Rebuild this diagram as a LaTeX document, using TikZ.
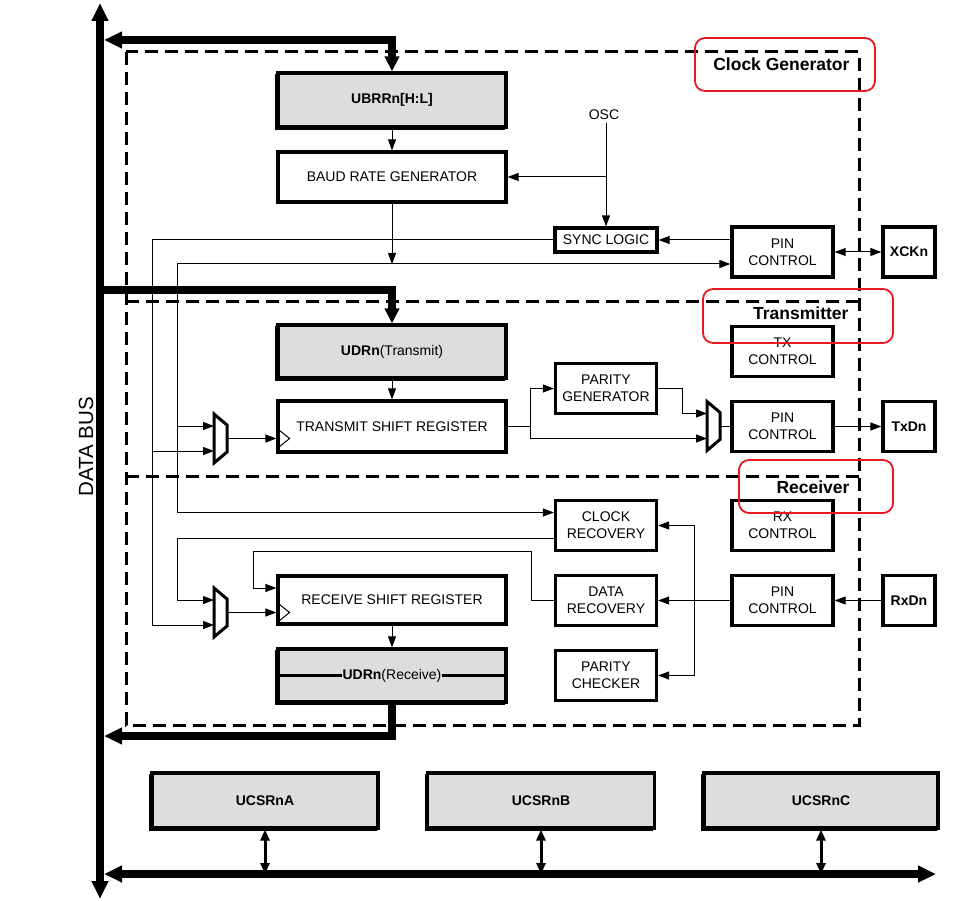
\documentclass[tikz,border=0pt]{standalone}
\usepackage{fontspec}
\setmainfont{Liberation Sans}
\usetikzlibrary{arrows.meta,shadows}
\definecolor{regfill}{RGB}{221,221,221}
\definecolor{hlred}{RGB}{232,24,32}

\begin{document}
\begin{tikzpicture}[
    x=1pt, y=-1pt,
    font=\fontsize{14}{17}\selectfont,
    blk/.style={draw, line width=3.2pt, align=center, inner sep=0pt},
    reg/.style={blk, fill=regfill, copy shadow={shadow xshift=-2pt, shadow yshift=-2pt, opacity=1, fill=regfill, draw=black, line width=1.2pt}},
    sig/.style={line width=1pt, -{Triangle[length=11pt,width=8pt]}},
    wire/.style={line width=1pt},
    bus/.style={line width=8pt},
    link/.style={line width=3pt, {Triangle[length=11pt,width=9pt]}-{Triangle[length=11pt,width=9pt]}},
    grp/.style={line width=3pt, dash pattern=on 13pt off 7pt},
    hl/.style={draw=hlred, line width=1.8pt, rounded corners=10pt},
    title/.style={font=\fontsize{17.5}{20}\selectfont\bfseries, anchor=east},
    mux/.pic={
      \draw[line width=3pt, fill=white] (0,-24.5) -- (13,-13.5) -- (13,13.5) -- (0,24.5) -- cycle;
      \coordinate (-a) at (0,-12.5);
      \coordinate (-b) at (0,12.5);
      \coordinate (-o) at (13,0);
    }
  ]
  \useasboundingbox (0,0) rectangle (972,901);
  \def\tipB{Triangle[length=18pt,width=16pt]}

  \coordinate (dbtop) at (100,3);
  \coordinate (dbbot) at (100,899);
  \coordinate (hbL) at (104,874);
  \coordinate (hbR) at (936,874);
  \coordinate (rs) at (152,240);
  \coordinate (rb) at (177,264);
  \coordinate (txj) at (530,426.5);
  \coordinate (rj) at (694,600.5);
  \coordinate (dq) at (531,551);
  \coordinate (dr) at (253,551);

  \node[reg, minimum width=228pt, minimum height=54pt] (ubrr) at (392,100) {\textbf{UBRRn[H:L]}};
  \node[blk, minimum width=228pt, minimum height=50pt] (baud) at (392,177) {BAUD RATE GENERATOR};
  \node[reg, minimum width=228pt, minimum height=53pt] (udrt) at (392,351.5) {\textbf{UDRn}(Transmit)};
  \node[blk, minimum width=228pt, minimum height=51pt] (tsr) at (392,426.5) {TRANSMIT SHIFT REGISTER};
  \node[blk, minimum width=228pt, minimum height=48pt] (rsr) at (392,600) {RECEIVE SHIFT REGISTER};
  \node[reg, minimum width=228pt, minimum height=53pt] (udrr) at (392,675.5) {};
  \node[fill=regfill, inner sep=0.5pt] (udrrL) at (udrr) {\textbf{UDRn}(Receive)};
  \draw[line width=2.2pt] (udrr.west) -- (udrrL.west) (udrrL.east) -- (udrr.east);

  \node (osc) at (604,115) {OSC};
  \node[blk, minimum width=102pt, minimum height=24pt] (sync) at (606,240) {SYNC LOGIC};
  \foreach \name/\lbl/\x/\y in {par/{PARITY\\GENERATOR}/606/388.5, clkr/{CLOCK\\RECOVERY}/606/525.5,
                                datr/{DATA\\RECOVERY}/606/600.5, parc/{PARITY\\CHECKER}/606/675.5,
                                pinck/{PIN\\CONTROL}/782.5/252, txc/{TX\\CONTROL}/782.5/351.5,
                                pintx/{PIN\\CONTROL}/782.5/426.5, rxc/{RX\\CONTROL}/782.5/525.5,
                                pinrx/{PIN\\CONTROL}/782.5/600.5}
    \node[blk, minimum width=101pt, minimum height=50pt] (\name) at (\x,\y) {\lbl};
  \foreach \name/\lbl/\y in {xck/XCKn/252, txd/TxDn/426.5, rxd/RxDn/600.5}
    \node[blk, minimum width=52pt, minimum height=50pt, font=\fontsize{14}{17}\selectfont\bfseries] (\name) at (909,\y) {\lbl};

  \pic (mxt) at (214,438.5) {mux};
  \pic (mxr) at (214,612.5) {mux};
  \pic (mx2) at (707,426) {mux};

  % buses
  \draw[bus, {\tipB}-{\tipB}] (dbtop) -- (dbbot);
  \draw[bus, {\tipB}-{\tipB}] (hbL) -- (hbR);
  \draw[bus, {Triangle[length=15pt,width=14pt]}-{\tipB}] (ubrr.north) |- ([xshift=4pt]dbtop |- 0,40);
  \draw[bus, -{Triangle[length=15pt,width=14pt]}] (dbtop |- 0,290) -| (udrt.north);
  \draw[bus, -{\tipB}] (udrr.south) |- ([xshift=4pt]dbtop |- 0,736);
  \node[rotate=90, font=\fontsize{20.5}{24}\selectfont] (dblbl) at (86,447) {DATA BUS};

  \foreach \name/\lbl/\x/\w in {ucsra/UCSRnA/265/226, ucsrb/UCSRnB/541/227, ucsrc/UCSRnC/821/234} {
    \node[reg, minimum width=\w pt, minimum height=55pt] (\name) at (\x,800.5) {\textbf{\lbl}};
    \draw[link] (\name.south) -- (\name.south |- hbL);
  }

  % clock generator
  \draw[sig] (ubrr) -- (baud);
  \draw[sig] (sync.north |- osc.south) -- (sync.north);
  \draw[sig] (sync.north |- baud.east) -- (baud.east);
  \draw[sig] (pinck.west |- sync.east) -- (sync.east);
  \draw[line width=1pt, {Triangle[length=11pt,width=8pt]}-{Triangle[length=11pt,width=8pt]}] (pinck) -- (xck);
  \draw[sig] (baud.south) -- (baud.south |- rb);
  \draw[sig] (rb) -- (pinck.west |- rb);
  \draw[sig] (sync.west) -| (rs |- mxr-b) -- (mxr-b);
  \draw[sig] (rs |- mxt-b) -- (mxt-b);
  \draw[sig] (rb |- mxt-a) -- (mxt-a);
  \draw[sig] (rb) |- ([yshift=13pt]clkr.west);

  % transmitter
  \draw[sig] (udrt) -- (tsr);
  \draw[sig] (mxt-o) -- (mxt-o -| tsr.west);
  \draw[wire] (tsr.west |- mxt-o) ++(3.2,-8) -- ++(10,8) -- ++(-10,8);
  \draw[wire] (tsr.east) -- (txj);
  \draw[sig] (txj) |- (par.west);
  \draw[sig] (txj) |- (mx2-b);
  \draw[sig] (par.east) -| (mx2-a -| 682,0) -- (mx2-a);
  \draw[wire] (mx2-o) -- (mx2-o -| pintx.west);
  \draw[sig] (pintx) -- (txd);

  % receiver
  \draw[sig] (rxd) -- (pinrx);
  \draw[sig] (pinrx) -- (datr);
  \draw[sig] (rj) |- (clkr.east);
  \draw[sig] (rj) |- (parc.east);
  \draw[sig] ([yshift=-13pt]clkr.west) -| (rb |- mxr-a) -- (mxr-a);
  \draw[sig] (datr.west) -| (dq) -- (dr) |- ([yshift=12pt]rsr.west);
  \draw[sig] (mxr-o) -- (mxr-o -| rsr.west);
  \draw[wire] (rsr.west |- mxr-o) ++(3.2,-8) -- ++(10,8) -- ++(-10,8);
  \draw[sig] (rsr) -- (udrr);

  % groups
  \draw[grp] (126,52) rectangle (859,725);
  \draw[grp] (126,302) -- (859,302);
  \draw[grp] (126,476) -- (859,476);
  \node[title] (tclk) at (853,64) {Clock Generator};
  \node[title] (ttx) at (852,313) {Transmitter};
  \node[title] (trx) at (853,487) {Receiver};
  \draw[hl] (695,38) rectangle (875,91);
  \draw[hl] (703,289) rectangle (893,343);
  \draw[hl] (739,460) rectangle (893,513);
\end{tikzpicture}
\end{document}
